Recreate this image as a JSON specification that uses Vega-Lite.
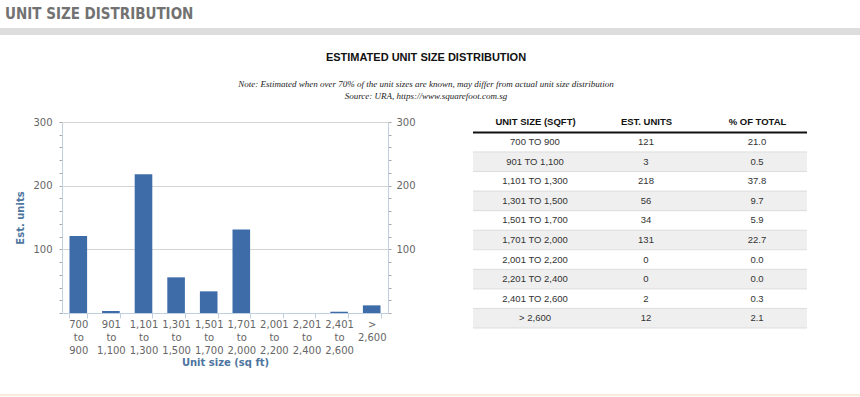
{
  "$schema": "https://vega.github.io/schema/vega-lite/v6.json",
  "background": "white",
  "padding": {"left": 0, "top": 7, "right": 0, "bottom": 0},
  "config": {"view": {"stroke": null}},
  "datasets": {
    "dist": [
      {"range": "700 TO 900", "units": 121, "pct": 21.0},
      {"range": "901 TO 1,100", "units": 3, "pct": 0.5},
      {"range": "1,101 TO 1,300", "units": 218, "pct": 37.8},
      {"range": "1,301 TO 1,500", "units": 56, "pct": 9.7},
      {"range": "1,501 TO 1,700", "units": 34, "pct": 5.9},
      {"range": "1,701 TO 2,000", "units": 131, "pct": 22.7},
      {"range": "2,001 TO 2,200", "units": 0, "pct": 0.0},
      {"range": "2,201 TO 2,400", "units": 0, "pct": 0.0},
      {"range": "2,401 TO 2,600", "units": 2, "pct": 0.3},
      {"range": "> 2,600", "units": 12, "pct": 2.1}
    ]
  },
  "spacing": 27,
  "vconcat": [
    {
      "spacing": 17,
      "vconcat": [
        {
          "title": {"text": "UNIT SIZE DISTRIBUTION", "anchor": "start", "dx": 5, "offset": 6, "font": "DejaVu Sans Condensed, sans-serif", "fontSize": 15, "fontWeight": "bold", "color": "#727272"},
          "width": 860,
          "height": 7,
          "data": {"values": [{"part": "band"}]},
          "mark": {"type": "rect", "color": "#dddddd"},
          "encoding": {}
        },
        {
          "title": {
            "text": "ESTIMATED UNIT SIZE DISTRIBUTION",
            "subtitle": ["Note: Estimated when over 70% of the unit sizes are known, may differ from actual unit size distribution", "Source: URA, https://www.squarefoot.com.sg"],
            "anchor": "middle", "dx": 22, "offset": 15,
            "font": "Liberation Sans", "fontSize": 11, "fontWeight": "bold", "color": "#111111",
            "subtitleFont": "Liberation Serif", "subtitleFontStyle": "italic", "subtitleFontSize": 9, "subtitleColor": "#222222", "subtitleLineHeight": 12, "subtitlePadding": 17
          },
          "spacing": 56,
          "hconcat": [
            {
              "data": {"name": "dist"},
              "width": 388,
              "height": 191,
              "layer": [
                {
                  "mark": {"type": "bar", "color": "#3e6ca8"},
                  "encoding": {
                    "x": {
                      "field": "range", "type": "nominal", "sort": null,
                      "scale": {"range": [62, 388], "paddingInner": 0.46, "paddingOuter": 0.23},
                      "axis": {
                        "labelAngle": 0,
                        "labelExpr": "split(replace(datum.label, ' TO ', ' to '), ' ')",
                        "labelFont": "DejaVu Sans", "labelFontSize": 10, "labelColor": "#666666", "labelLineHeight": 13, "labelPadding": 1, "labelOverlap": false,
                        "tickBand": "extent", "tickSize": 5, "tickColor": "#C0D0E0", "domainColor": "#C0D0E0",
                        "title": "Unit size (sq ft)", "titleFont": "DejaVu Sans", "titleFontSize": 10, "titleFontWeight": "bold", "titleColor": "#4d759e", "titlePadding": 2
                      }
                    },
                    "y": {
                      "field": "units", "type": "quantitative",
                      "scale": {"domain": [0, 300], "nice": false},
                      "axis": {
                        "orient": "left", "offset": -62,
                        "values": [0, 20, 40, 60, 80, 100, 120, 140, 160, 180, 200, 220, 240, 260, 280, 300],
                        "labelExpr": "datum.value > 0 && datum.value % 100 == 0 ? datum.label : ''",
                        "labelOverlap": false, "labelFlush": false,
                        "grid": true, "gridColor": "#d4d4d4",
                        "gridOpacity": {"condition": {"test": "datum.value > 0 && datum.value % 100 == 0", "value": 1}, "value": 0},
                        "tickSize": 3, "tickColor": "#a8a8a8", "domainColor": "#C0D0E0",
                        "labelFont": "DejaVu Sans", "labelFontSize": 10, "labelColor": "#666666", "labelPadding": 7,
                        "title": "Est. units", "titleFont": "DejaVu Sans", "titleFontSize": 10, "titleFontWeight": "bold", "titleColor": "#4d759e", "titlePadding": 7
                      }
                    }
                  }
                },
                {
                  "mark": {"type": "bar", "opacity": 0},
                  "encoding": {
                    "x": {"field": "range", "type": "nominal", "sort": null},
                    "y": {
                      "field": "units", "type": "quantitative",
                      "scale": {"domain": [0, 300], "nice": false},
                      "axis": {
                        "orient": "right",
                        "values": [0, 20, 40, 60, 80, 100, 120, 140, 160, 180, 200, 220, 240, 260, 280, 300],
                        "labelExpr": "datum.value > 0 && datum.value % 100 == 0 ? datum.label : ''",
                        "labelOverlap": false, "labelFlush": false, "grid": false,
                        "tickSize": 3, "tickColor": "#a8a8a8", "domainColor": "#C0D0E0",
                        "labelFont": "DejaVu Sans", "labelFontSize": 10, "labelColor": "#666666", "labelPadding": 5,
                        "title": null
                      }
                    }
                  }
                }
              ],
              "resolve": {"scale": {"y": "independent"}, "axis": {"y": "independent"}}
            },
            {
              "data": {"name": "dist"},
              "transform": [{"window": [{"op": "row_number", "as": "rn"}]}],
              "width": 334,
              "height": 206,
              "encoding": {
                "y": {"field": "range", "type": "nominal", "sort": null, "scale": {"paddingInner": 0, "paddingOuter": 0.266, "align": 1}, "axis": null}
              },
              "layer": [
                {
                  "mark": {"type": "rect"},
                  "encoding": {"color": {"condition": {"test": "datum.rn % 2 == 0", "value": "#efefef"}, "value": "#ffffff"}}
                },
                {
                  "mark": {"type": "rule", "color": "#dddddd", "strokeWidth": 1},
                  "encoding": {"y": {"field": "range", "type": "nominal", "sort": null, "bandPosition": 1}}
                },
                {
                  "mark": {"type": "rule", "color": "#111111"},
                  "encoding": {
                    "y": {"field": "range", "type": "nominal", "sort": null, "bandPosition": 0},
                    "strokeWidth": {"condition": {"test": "datum.rn == 1", "value": 2}, "value": 0}
                  }
                },
                {
                  "mark": {"type": "text", "font": "Liberation Sans", "fontSize": 9.5, "color": "#333333"},
                  "encoding": {
                    "x": {
                      "datum": "UNIT SIZE (SQFT)", "type": "nominal",
                      "scale": {"type": "point", "domain": ["UNIT SIZE (SQFT)", "EST. UNITS", "% OF TOTAL"], "range": [62, 284], "padding": 0},
                      "axis": {"orient": "top", "offset": -10, "domain": false, "ticks": false, "labelFont": "Liberation Sans", "labelFontWeight": "bold", "labelFontSize": 9.5, "labelColor": "#111111", "labelPadding": 6, "labelAngle": 0, "title": null}
                    },
                    "text": {"field": "range"}
                  }
                },
                {
                  "mark": {"type": "text", "font": "Liberation Sans", "fontSize": 9.5, "color": "#333333"},
                  "encoding": {
                    "x": {"datum": "EST. UNITS", "type": "nominal"},
                    "text": {"field": "units", "type": "quantitative", "format": "d"}
                  }
                },
                {
                  "mark": {"type": "text", "font": "Liberation Sans", "fontSize": 9.5, "color": "#333333"},
                  "encoding": {
                    "x": {"datum": "% OF TOTAL", "type": "nominal"},
                    "text": {"field": "pct", "type": "quantitative", "format": ".1f"}
                  }
                }
              ]
            }
          ]
        }
      ]
    },
    {
      "width": 860,
      "height": 2,
      "data": {"values": [{"part": "footer"}]},
      "mark": {"type": "rect", "color": "#f6ecd9"},
      "encoding": {}
    }
  ]
}
